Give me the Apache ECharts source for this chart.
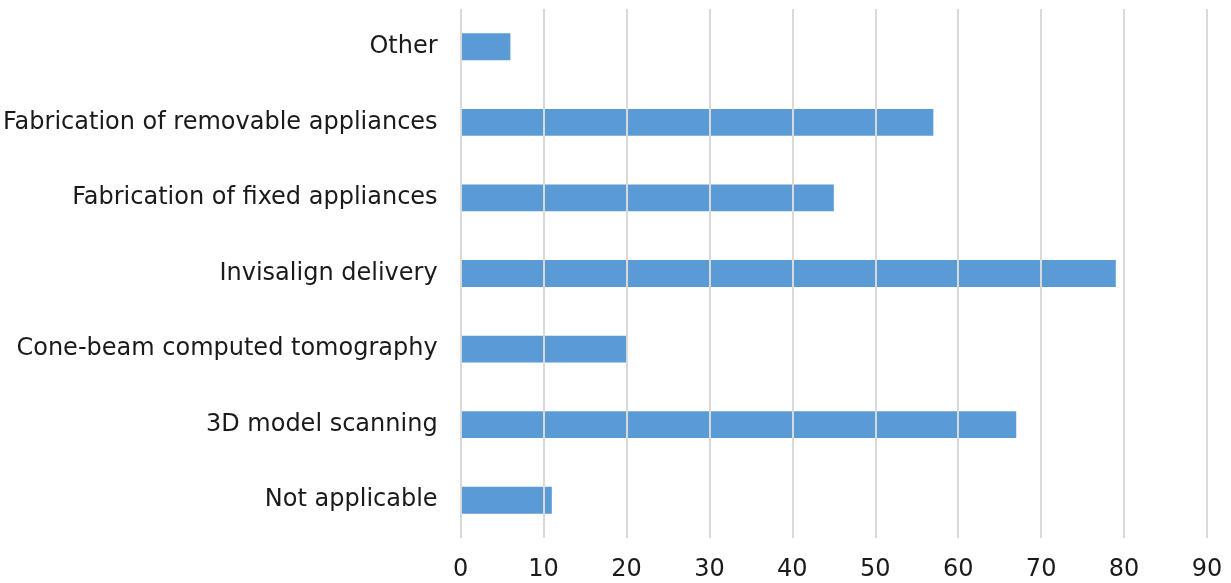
<!DOCTYPE html>
<html>
<head>
<meta charset="utf-8">
<script src="https://cdn.jsdelivr.net/npm/echarts@6/dist/echarts.min.js"></script>
<style>html,body{margin:0;padding:0;background:#fff}#c{width:1231px;height:583px}</style>
</head>
<body>
<div id="c"></div>
<script>
const categories = ["Not applicable","3D model scanning","Cone-beam computed tomography","Invisalign delivery","Fabrication of fixed appliances","Fabrication of removable appliances","Other"];
const values = [11,67,20,79,45,57,6];
const xTicks = {min:0,max:90,interval:10};

const chart = echarts.init(document.getElementById('c'));
chart.setOption({
  animation:false,
  grid:{left:460,right:24,top:9,bottom:45,containLabel:false},
  xAxis:{type:'value',min:xTicks.min,max:xTicks.max,interval:xTicks.interval,z:3,
    axisLine:{show:false},axisTick:{show:false},
    splitLine:{show:true,lineStyle:{color:'#d9d9d9',width:2}},
    axisLabel:{color:'#1a1a1a',fontSize:24,fontFamily:'DejaVu Sans',fontWeight:'normal',margin:20}},
  yAxis:{type:'category',data:categories,
    axisLine:{show:false},axisTick:{show:false},
    axisLabel:{color:'#1a1a1a',fontSize:24,fontFamily:'DejaVu Sans',margin:23}},
  series:[{type:'bar',data:values,barCategoryGap:'64.5%',itemStyle:{color:'#5b9bd5'}}]
});
</script>
</body>
</html>
